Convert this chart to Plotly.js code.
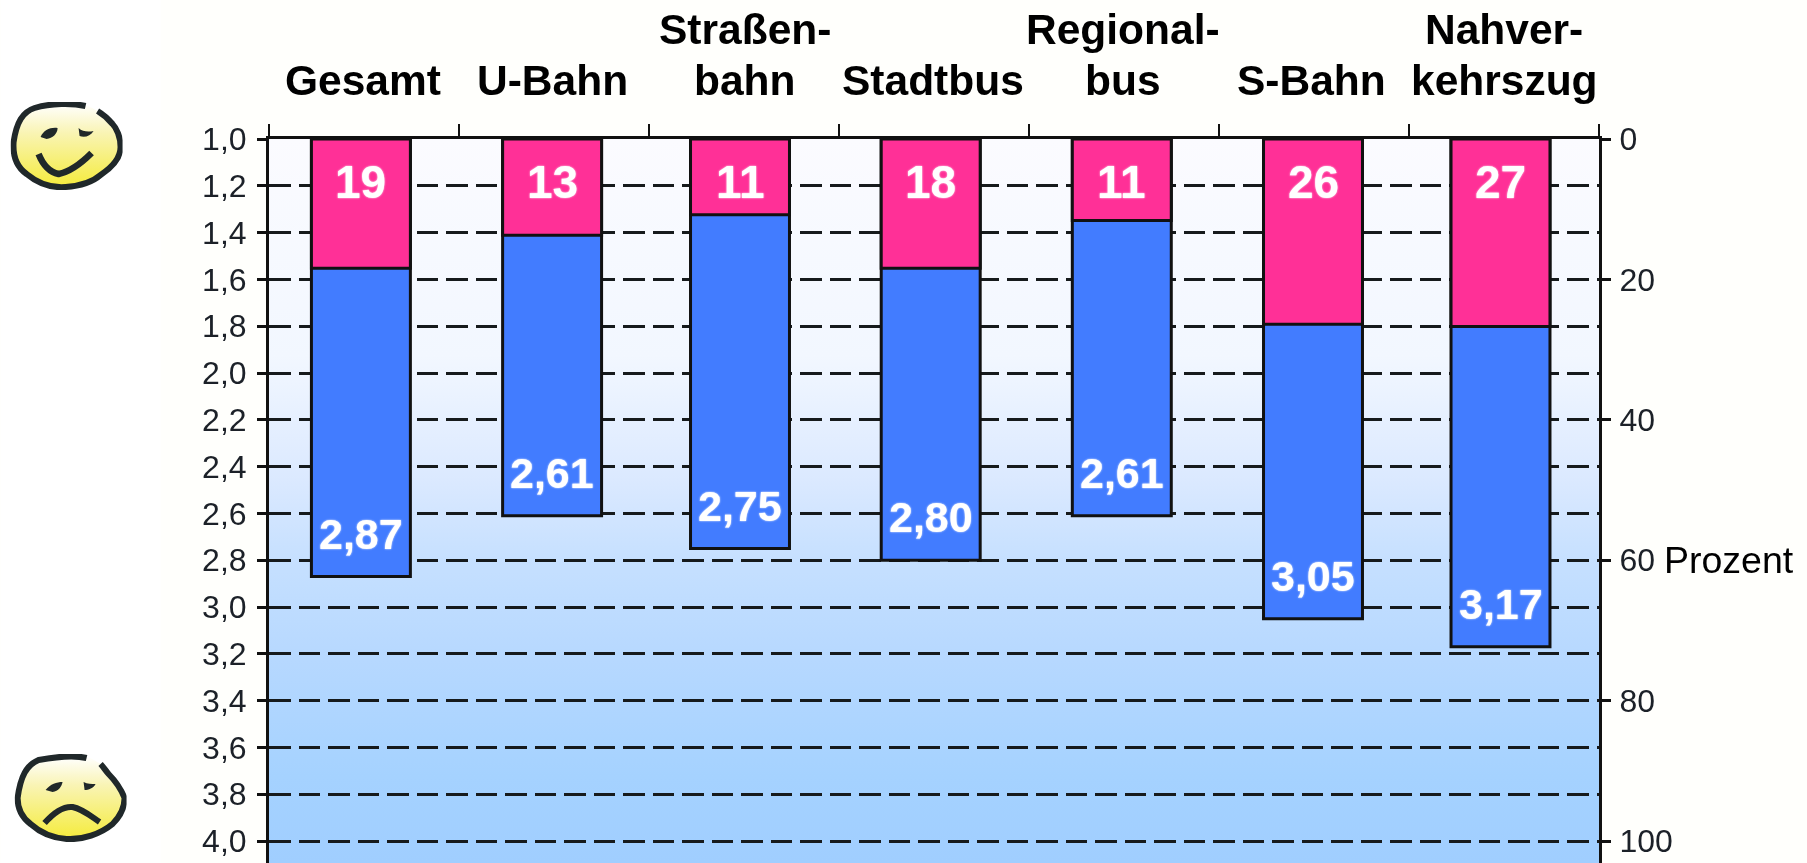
<!DOCTYPE html>
<html>
<head>
<meta charset="utf-8">
<script src="https://cdn.plot.ly/plotly-3.0.1.min.js"></script>
<style>html,body{margin:0;padding:0;background:#fff;overflow:hidden}#chart{width:1807px;height:863px;filter:blur(0.4px)}</style>
</head>
<body>
<div id="chart"></div>
<script>
// ---- data ----
const categories = ["Gesamt","U-Bahn","Straßenbahn","Stadtbus","Regionalbus","S-Bahn","Nahverkehrszug"];
const labelTop   = ["","","Straßen-","","Regional-","","Nahver-"];
const labelBottom= ["Gesamt","U-Bahn","bahn","Stadtbus","bus","S-Bahn","kehrszug"];
const meanGrade  = [2.87,2.61,2.75,2.80,2.61,3.05,3.17];
const meanLabels = ["2,87","2,61","2,75","2,80","2,61","3,05","3,17"];
const sharePct   = [18.4,13.7,10.8,18.4,11.6,26.4,26.7];
const shareLabels= ["19","13","11","18","11","26","27"];
const barShiftPx = [-3.1,-1.9,-4,-3.3,-2.2,-1,-3.5];
const labelShiftPx=[-1,-2,1,-1,-1,-3,0];

// ---- frame ----
const W=1807,H=863,L=268.5,R=1599,T=139,Y4=841;
const pw=R-L, ph=H-T, catPx=pw/7, barPx=99;
const gradeMax = 1+(H-T)/((Y4-T)/3);
const pctMax = (H-T)/((Y4-T)/100);
const offsets = barShiftPx.map(s=>(s-barPx/2)/catPx);
const px=x=>(x-L)/pw, py=y=>(H-y)/ph;

const font="'Liberation Sans', Arial, sans-serif";
const svgURI=s=>"data:image/svg+xml;charset=utf-8,"+encodeURIComponent(s);

const bgSvg=`<svg xmlns="http://www.w3.org/2000/svg" width="100" height="724" preserveAspectRatio="none"><defs><linearGradient id="g" x1="0" y1="0" x2="0" y2="1">
<stop offset="0" stop-color="#fbfbff"/><stop offset="0.3" stop-color="#f2f7ff"/><stop offset="0.47" stop-color="#dbe9ff"/><stop offset="0.58" stop-color="#c6e0ff"/><stop offset="0.72" stop-color="#b6d8ff"/><stop offset="0.88" stop-color="#a5d2ff"/><stop offset="1" stop-color="#a0ceff"/></linearGradient></defs><rect width="100" height="724" fill="url(#g)"/></svg>`;

const yellow=`<defs><linearGradient id="y" x1="0" y1="0" x2="0" y2="1"><stop offset="0" stop-color="#ffffff"/><stop offset="0.35" stop-color="#f9f4b4"/><stop offset="0.95" stop-color="#f5ec45"/></linearGradient></defs>`;
const ink="#20282a";
const happy=`<svg xmlns="http://www.w3.org/2000/svg" width="112" height="88" viewBox="0 0 112 88">${yellow}
<path d="M78 4C62 0 40 1 24 6C12 10 6 20 3 40C2 55 6 65 16 72C28 82 42 86 55 85C70 84 82 80 90 73C102 65 110 56 110 45C110 35 106 26 102 22C97 16 92 12 87 9Z" fill="url(#y)"/>
<path d="M75 4C62 1 40 1 24 6C12 10 6 20 3 40C2 55 6 65 16 72C28 82 42 86 55 85C70 84 82 80 90 73C102 65 110 56 110 45C110 35 106 26 102 22C97 16 92 12 87 9" fill="none" stroke="${ink}" stroke-width="6" stroke-linecap="butt"/>
<path d="M30 35C33 28 40 25 47 26C47 32 42 36 36 37Z M68 26C72 30 78 30 83 29C80 34 74 36 69 34Z" fill="${ink}"/>
<path d="M28 52C32 62 38 70 48 72C58 70 70 62 81 51" fill="none" stroke="${ink}" stroke-width="6.5" stroke-linejoin="round"/>
</svg>`;
const sad=`<svg xmlns="http://www.w3.org/2000/svg" width="112" height="88" viewBox="0 0 112 88">${yellow}
<path d="M76 4C60 1 40 3 24 6C12 11 6 22 3 44C3 56 8 64 16 70C26 79 38 84 52 85C68 86 86 80 98 70C106 62 110 52 110 44C106 34 100 26 94 20C90 15 88 12 86 10Z" fill="url(#y)"/>
<path d="M72 4C60 1 40 3 24 6C12 11 6 22 3 44C3 56 8 64 16 70C26 79 38 84 52 85C68 86 86 80 98 70C106 62 110 52 110 44C106 34 100 26 94 20C90 15 88 12 86 10" fill="none" stroke="${ink}" stroke-width="6" stroke-linecap="butt"/>
<path d="M31 36C36 30 42 28 48 28C47 33 44 37 38 38Z M69 28C73 30 77 30 81 30C79 34 74 36 70 36Z" fill="${ink}"/>
<path d="M30 69C38 60 48 52 58 53C68 55 76 62 85 68" fill="none" stroke="${ink}" stroke-width="6"/>
</svg>`;

const traces=[
 {type:"bar",name:"Note",x:categories,base:1,y:meanGrade.map(v=>v-1),width:barPx/catPx,offset:offsets,
  xaxis:"x",yaxis:"y",marker:{color:"#427cff",line:{color:"#111",width:3}},hoverinfo:"skip"},
 {type:"bar",name:"Prozent",x:categories,y:sharePct,width:barPx/catPx,offset:offsets,
  xaxis:"x",yaxis:"y2",marker:{color:"#ff3097",line:{color:"#111",width:3}},hoverinfo:"skip"}
];

const labelFont=s=>({family:font,size:s,color:"#fff",weight:700,shadow:"0 0 2px #fff"});
const catFont={family:font,size:42.5,color:"#000",weight:700};
const annotations=[];
categories.forEach((c,i)=>{
  annotations.push({x:c,xref:"x",y:0,yref:"y2",yshift:-43,xshift:barShiftPx[i],text:shareLabels[i],showarrow:false,
    font:labelFont(46),xanchor:"center",yanchor:"middle"});
  annotations.push({x:c,xref:"x",y:meanGrade[i],yref:"y",yshift:43,xshift:barShiftPx[i],text:meanLabels[i],showarrow:false,
    font:labelFont(43),xanchor:"center",yanchor:"middle"});
  annotations.push({x:c,xref:"x",y:1,yref:"paper",yshift:59,xshift:labelShiftPx[i],text:labelBottom[i],showarrow:false,
    font:catFont,xanchor:"center",yanchor:"middle"});
  if(labelTop[i]) annotations.push({x:c,xref:"x",y:1,yref:"paper",yshift:110,xshift:labelShiftPx[i],text:labelTop[i],showarrow:false,
    font:catFont,xanchor:"center",yanchor:"middle"});
});
annotations.push({xref:"paper",x:px(1662),yref:"y2",y:60,text:"Prozent",showarrow:false,xanchor:"left",yanchor:"middle",
  font:{family:font,size:37.5,color:"#000"}});

const tickFont={family:font,size:32,color:"#1c2128"};
const layout={
 width:W,height:H,margin:{l:L,r:W-R,t:T,b:0,pad:0},
 paper_bgcolor:"#fffffc",plot_bgcolor:"rgba(0,0,0,0)",
 showlegend:false,barmode:"overlay",separators:",.",
 xaxis:{type:"category",side:"top",categoryorder:"array",categoryarray:categories,range:[-0.5,6.5],tickson:"boundaries",
   ticks:"outside",ticklen:12,tickwidth:2.4,tickcolor:"#111",showline:true,linecolor:"#111",linewidth:3,showgrid:false,
   showticklabels:false,fixedrange:true},
 yaxis:{range:[gradeMax,1],tick0:1,dtick:0.2,tickformat:".1f",ticks:"outside",ticklen:9,tickwidth:3,tickcolor:"#111",
   showline:true,linecolor:"#111",linewidth:3,showgrid:true,gridcolor:"#161a1c",gridwidth:3,griddash:"21.5px,8px",zeroline:false,
   tickfont:tickFont,ticklabelstandoff:4,fixedrange:true},
 yaxis2:{range:[pctMax,0],overlaying:"y",side:"right",tick0:0,dtick:20,ticks:"outside",ticklen:9,tickwidth:3,tickcolor:"#111",
   showline:true,linecolor:"#111",linewidth:3,showgrid:false,zeroline:false,tickfont:tickFont,ticklabelstandoff:2,fixedrange:true},
 shapes:[{type:"rect",xref:"paper",yref:"paper",x0:px(0),x1:px(160),y0:0,y1:py(0),fillcolor:"#ffffff",line:{width:0},layer:"below"}],
 images:[
  {source:svgURI(bgSvg),xref:"paper",yref:"paper",x:0,y:1,sizex:1,sizey:1,sizing:"stretch",xanchor:"left",yanchor:"top",layer:"below"},
  {source:svgURI(happy),xref:"paper",yref:"paper",x:px(10),y:py(102),sizex:112/pw,sizey:88/ph,sizing:"stretch",xanchor:"left",yanchor:"top",layer:"above"},
  {source:svgURI(sad),xref:"paper",yref:"paper",x:px(14),y:py(754),sizex:112/pw,sizey:88/ph,sizing:"stretch",xanchor:"left",yanchor:"top",layer:"above"}
 ],
 annotations
};
Plotly.newPlot("chart",traces,layout,{displayModeBar:false,responsive:false});
</script>
</body>
</html>
